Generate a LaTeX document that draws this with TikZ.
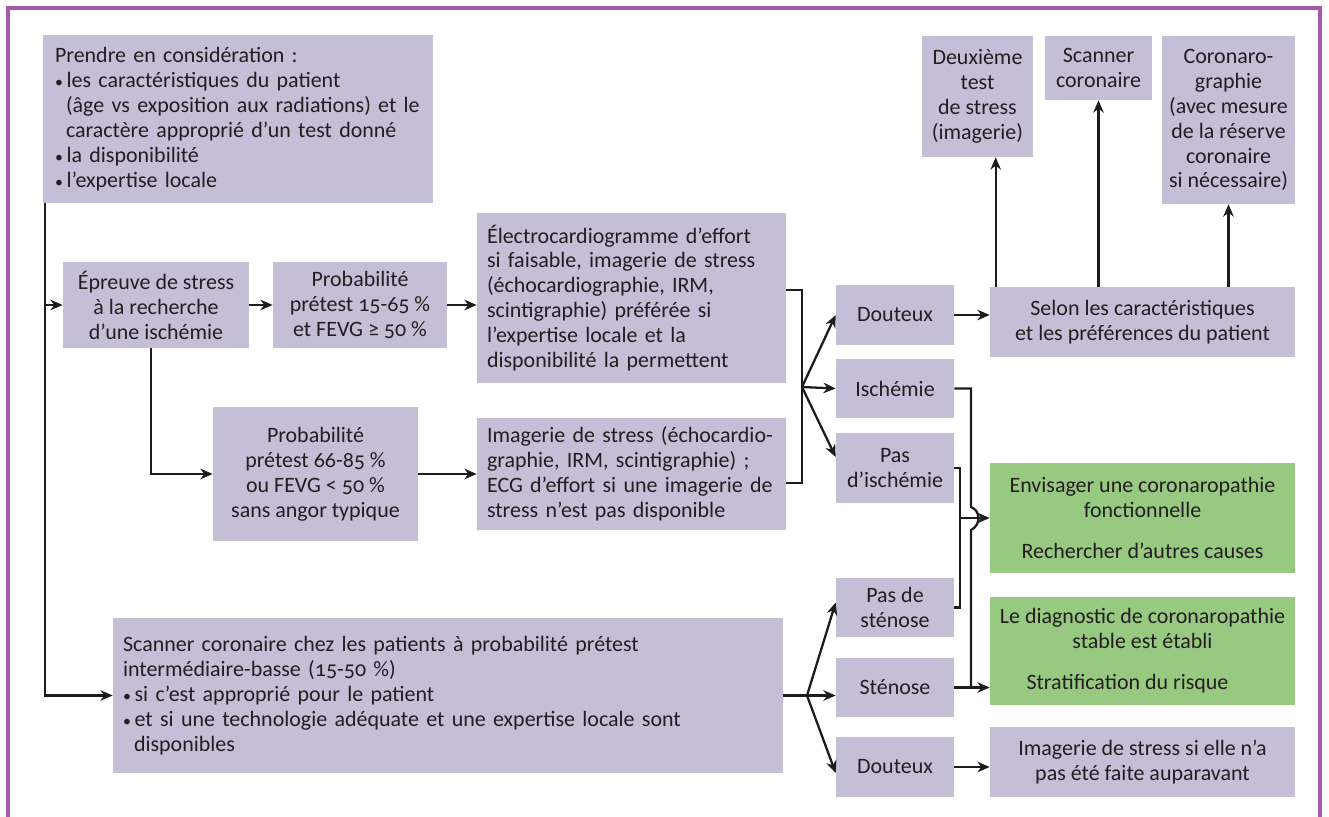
\documentclass[tikz,border=0pt]{standalone}
\usepackage{fontspec}
\setmainfont{Carlito}[Numbers=OldStyle]
\usetikzlibrary{arrows.meta,calc}

\definecolor{boxlilac}{RGB}{196,190,214}
\definecolor{boxgreen}{RGB}{152,201,129}
\definecolor{framepurple}{RGB}{168,88,168}
\definecolor{inkdark}{RGB}{36,30,34}
\definecolor{linedark}{RGB}{28,28,28}

\newcommand{\itembul}{{\fontsize{9pt}{9pt}\selectfont•}\,}

\begin{document}
\begin{tikzpicture}[x=0.02cm, y=-0.02cm, >={Stealth[length=7pt,width=6pt]},
    main node/.style={rectangle, fill=boxlilac, text=inkdark, inner sep=1pt, align=center, font=\fontsize{12.5pt}{14.2pt}\selectfont},
    green node/.style={main node, fill=boxgreen},
    text node/.style={main node, align=left, inner ysep=0pt},
    link/.style={draw=linedark, line width=1.3pt}]

    \useasboundingbox (0,0) rectangle (1329,817);
    \draw[framepurple, line width=1.8pt] (8,8) rectangle (1320,860);

    % left part
    \node[text node, text width=7.32cm, inner xsep=0.24cm, minimum height=3.36cm] (consid) at (238,119) {Prendre en considération :\\
        \itembul les caractéristiques du patient\\
        \hspace*{0.5em}(âge vs exposition aux radiations) et le\\
        \hspace*{0.5em}caractère approprié d’un test donné\\
        \itembul la disponibilité\\
        \itembul l’expertise locale};

    \node[main node, minimum width=3.72cm, minimum height=1.72cm] (epreuve) at (156,305) {Épreuve de stress\\à la recherche\\d’une ischémie};
    \node[main node, minimum width=3.48cm, minimum height=1.72cm] (prob1) at (360,305) {Probabilité\\prétest 15-65~\%\\et FEVG ≥ 50~\%};
    \node[text node, text width=5.78cm, inner xsep=0.2cm, minimum height=3.4cm] (electro) at (631.5,298) {Électrocardiogramme d’effort\\
        si faisable, imagerie de stress\\
        (échocardiographie, IRM,\\
        scintigraphie) préférée si\\
        l’expertise locale et la\\
        disponibilité la permettent};
    \node[main node, minimum width=4.1cm, minimum height=2.68cm] (prob2) at (315.5,474) {Probabilité\\prétest 66-85~\%\\ou FEVG < 50~\%\\sans angor typique};
    \node[text node, text width=5.78cm, inner xsep=0.2cm, minimum height=2.24cm] (imag) at (631.5,474) {Imagerie de stress (échocardio-\\
        graphie, IRM, scintigraphie) ;\\
        ECG d’effort si une imagerie de\\
        stress n’est pas disponible};

    \node[text node, text width=13cm, inner xsep=0.2cm, minimum height=3.1cm] (scanbox) at (448,695.5) {Scanner coronaire chez les patients à probabilité prétest\\
        intermédiaire-basse (15-50~\%)\\
        \itembul si c’est approprié pour le patient\\
        \itembul et si une technologie adéquate et une expertise locale sont\\
        \hspace*{0.5em}disponibles};

    % results
    \node[main node, minimum width=2.36cm, minimum height=1.2cm] (dout1) at (895,315) {Douteux};
    \node[main node, minimum width=2.36cm, minimum height=1.18cm] (isch) at (895,388.5) {Ischémie};
    \node[main node, minimum width=2.36cm, minimum height=1.4cm] (pasisch) at (895,468) {Pas\\d’ischémie};
    \node[main node, minimum width=2.36cm, minimum height=1.18cm] (pasten) at (895,607.5) {Pas de\\sténose};
    \node[main node, minimum width=2.36cm, minimum height=1.18cm] (steno) at (895,687.5) {Sténose};
    \node[main node, minimum width=2.36cm, minimum height=1.2cm] (dout2) at (895,767) {Douteux};

    % right part
    \node[main node, minimum width=6.1cm, minimum height=1.4cm] (selon) at (1142.5,322) {Selon les caractéristiques\\et les préférences du patient};
    \node[main node, minimum width=2.22cm, minimum height=2.42cm] (deux) at (977.5,96.5) {Deuxième\\test\\de stress\\(imagerie)};
    \node[main node, minimum width=2.14cm, minimum height=1.28cm] (scan) at (1098.5,68) {Scanner\\coronaire};
    \node[main node, minimum width=2.66cm, minimum height=3.36cm] (corono) at (1228.5,120) {Coronaro-\\graphie\\(avec mesure\\de la réserve\\coronaire\\si nécessaire)};
    \node[green node, minimum width=6.1cm, minimum height=2.2cm] (green1) at (1142.5,518) {Envisager une coronaropathie\\fonctionnelle\\[0.32cm]Rechercher d’autres causes};
    \node[green node, minimum width=6.1cm, minimum height=2.16cm] (green2) at (1142.5,651) {Le diagnostic de coronaropathie\\stable est établi\\[0.32cm]Stratification du risque\hspace*{0.6cm}};
    \node[main node, minimum width=6.1cm, minimum height=1.4cm] (imag2) at (1142.5,762) {Imagerie de stress si elle n’a\\pas été faite auparavant};

    % connectors
    \coordinate (trunk) at (45,203);
    \draw[link,->] (trunk) |- (scanbox.west);
    \draw[link,->] (trunk |- epreuve.west) -- (epreuve.west);
    \draw[link,->] (epreuve) -- (prob1);
    \draw[link,->] (prob1.east) -- (prob1.east -| electro.west);
    \draw[link,->] ([xshift=-0.1cm]epreuve.south) |- (prob2.west);
    \draw[link,->] (prob2.east) -- (prob2.east -| imag.west);

    \coordinate (fork1) at (802,387);
    \draw[link] (electro.east |- 0,290) -| (fork1) |- (imag.east |- 0,483);
    \draw[link,->] (fork1) -- (dout1.west);
    \draw[link,->] (fork1) -- (isch.west);
    \draw[link,->] (fork1) -- ([yshift=0.22cm]pasisch.west);

    \draw[link,->] (dout1.east) -- (dout1.east -| selon.west);
    \coordinate (up1) at ($(selon.north west)+(6,0)$);
    \draw[link,->] (up1) -- (up1 |- deux.south);
    \draw[link,->] (selon.north -| scan.south) -- (scan.south);
    \draw[link,->] (selon.north -| corono.south) -- (corono.south);

    \coordinate (fork3) at (960,518);
    \draw[link] (pasisch.east) -| (fork3) |- (pasten.east);
    \draw[link,->] (fork3) -- (fork3 -| green1.west);
    % ischemie goes over the arrow to green1
    \draw[link] (isch.east) -| (971,507) .. controls (981,511) and (981,525) .. (971,530) -- (971,0 |- steno.east);
    \draw[link,->] (steno.east) -- (steno.east -| green2.west);

    \coordinate (fork2) at (807,0 |- scanbox.east);
    \draw[link] (scanbox.east) -- (fork2);
    \draw[link,->] (fork2) -- ([yshift=0.1cm]pasten.west);
    \draw[link,->] (fork2) -- (fork2 -| steno.west);
    \draw[link,->] (fork2) -- ([yshift=-0.12cm]dout2.west);
    \draw[link,->] (dout2.east) -- (dout2.east -| imag2.west);
\end{tikzpicture}
\end{document}
